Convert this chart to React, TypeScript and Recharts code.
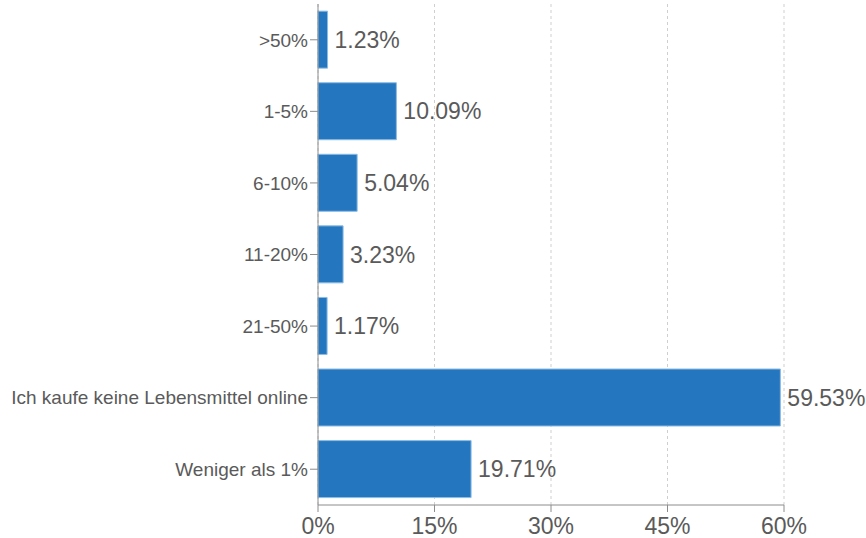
import { Bar, BarChart, CartesianGrid, LabelList, XAxis, YAxis } from "recharts";

const categories = [
  ">50%",
  "1-5%",
  "6-10%",
  "11-20%",
  "21-50%",
  "Ich kaufe keine Lebensmittel online",
  "Weniger als 1%",
];
const shares = [1.23, 10.09, 5.04, 3.23, 1.17, 59.53, 19.71];
const xTicks = [0, 15, 30, 45, 60];

const data = categories.map((name, i) => ({ name, value: shares[i] }));

const textColor = "#5a5a5a";
const axisColor = "#8c8c8c";

export default function App() {
  return (
    <div style={{ position: "absolute", left: 0, top: 0, fontFamily: "'Liberation Sans', Arial, sans-serif" }}>
      <BarChart
        width={866}
        height={538}
        data={data}
        layout="vertical"
        margin={{ top: 4, right: 82, left: 0, bottom: 0 }}
        barCategoryGap="10%"
      >
        <CartesianGrid horizontal={false} strokeDasharray="3 3" stroke="#cfcfcf" />
        <XAxis
          type="number"
          domain={[0, 60]}
          ticks={xTicks}
          tickFormatter={(v) => `${v}%`}
          height={33}
          stroke={axisColor}
          tickSize={7}
          tickMargin={6}
          tick={{ fontSize: 23, fill: textColor }}
        />
        <YAxis
          type="category"
          dataKey="name"
          width={318}
          stroke={axisColor}
          tickSize={8}
          interval={0}
          tick={{ fontSize: 19, fill: textColor }}
        />
        <Bar dataKey="value" fill="#2477bf" stroke="#8cbbe3" strokeWidth={1} isAnimationActive={false}>
          <LabelList
            dataKey="value"
            position="right"
            offset={7}
            formatter={(v: number) => `${v.toFixed(2)}%`}
            style={{ fontSize: 23, fill: textColor }}
          />
        </Bar>
      </BarChart>
    </div>
  );
}
